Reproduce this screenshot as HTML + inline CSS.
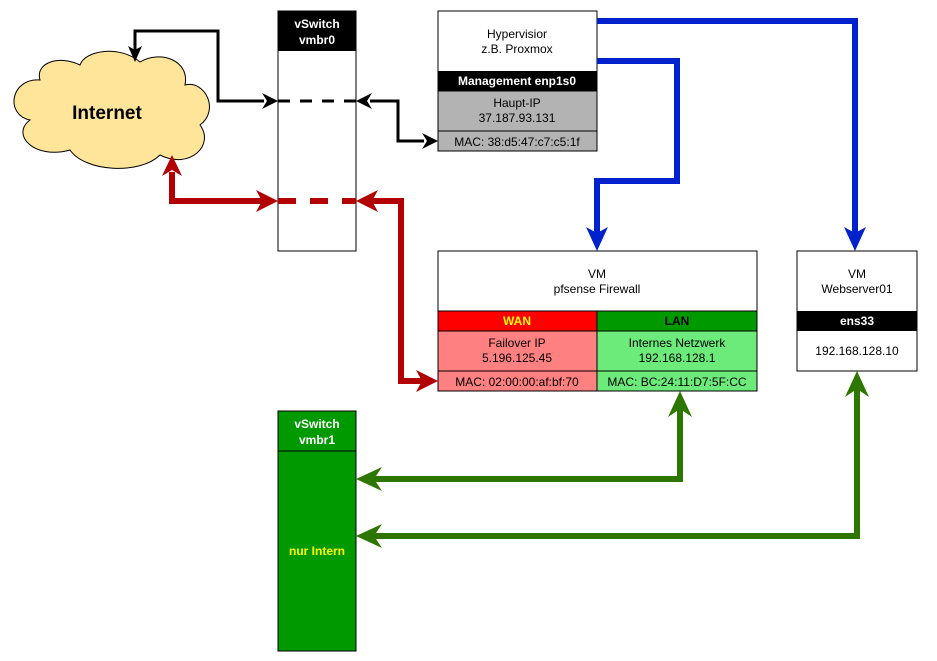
<!DOCTYPE html>
<html><head><meta charset="utf-8"><style>
html,body{margin:0;padding:0;background:#fff;}
svg{display:block;font-family:"Liberation Sans",Arial,sans-serif;}
</style></head><body>
<svg width="937" height="661" viewBox="0 0 937 661" xmlns="http://www.w3.org/2000/svg">
<defs>
<marker id="ak" viewBox="0 0 10 10" refX="9" refY="5" markerWidth="5" markerHeight="5" orient="auto-start-reverse" markerUnits="userSpaceOnUse" style="overflow:visible"><path d="M0,0 L10,5 L0,10 L3,5 Z" fill="#000" transform="scale(1.8) translate(-4,-2.2)"/></marker>
</defs>
<!-- cloud -->
<path d="M40,80 C10,78 5,115 30,120 C10,135 35,160 70,150 C85,172 140,175 160,155 C190,170 215,145 200,125 C220,110 205,80 185,85 C190,60 160,50 140,62 C120,45 85,50 80,65 C60,55 35,62 40,80 Z" fill="#ffe599" stroke="#000" stroke-width="1"/>
<text x="107" y="119" font-size="19" font-weight="bold" text-anchor="middle">Internet</text>

<!-- vSwitch vmbr0 -->
<rect x="278" y="11" width="78" height="240" fill="#fff" stroke="#000"/>
<rect x="278" y="11" width="78" height="40" fill="#000"/>
<text x="317" y="28" font-size="12" font-weight="bold" fill="#fff" text-anchor="middle">vSwitch</text>
<text x="317" y="44" font-size="12" font-weight="bold" fill="#fff" text-anchor="middle">vmbr0</text>

<!-- Hypervisor -->
<rect x="438" y="11" width="159" height="140" fill="#fff" stroke="#000"/>
<text x="517" y="38" font-size="12" text-anchor="middle">Hypervisior</text>
<text x="517" y="53" font-size="12" text-anchor="middle">z.B. Proxmox</text>
<rect x="438" y="71" width="159" height="20" fill="#000"/>
<text x="517" y="85" font-size="12" font-weight="bold" fill="#fff" text-anchor="middle">Management enp1s0</text>
<rect x="438" y="91" width="159" height="60" fill="#b3b3b3" stroke="#000"/>
<line x1="438" y1="131" x2="597" y2="131" stroke="#000"/>
<text x="517" y="107" font-size="12" text-anchor="middle">Haupt-IP</text>
<text x="517" y="122" font-size="12" text-anchor="middle">37.187.93.131</text>
<text x="517" y="146" font-size="12" text-anchor="middle">MAC: 38:d5:47:c7:c5:1f</text>

<!-- pfsense -->
<rect x="438" y="251" width="319" height="140" fill="#fff" stroke="#000"/>
<text x="597" y="278" font-size="12" text-anchor="middle">VM</text>
<text x="597" y="293" font-size="12" text-anchor="middle">pfsense Firewall</text>
<rect x="438" y="311" width="159" height="20" fill="#ff0000" stroke="#000"/>
<rect x="597" y="311" width="160" height="20" fill="#009900" stroke="#000"/>
<text x="517" y="325" font-size="12" font-weight="bold" fill="#ffff00" text-anchor="middle">WAN</text>
<text x="677" y="325" font-size="12" font-weight="bold" fill="#000" text-anchor="middle">LAN</text>
<rect x="438" y="331" width="159" height="60" fill="#ff8080" stroke="#000"/>
<rect x="597" y="331" width="160" height="60" fill="#6ceb7b" stroke="#000"/>
<line x1="438" y1="371" x2="757" y2="371" stroke="#000"/>
<text x="517" y="347" font-size="12" text-anchor="middle">Failover IP</text>
<text x="517" y="362" font-size="12" text-anchor="middle">5.196.125.45</text>
<text x="517" y="386" font-size="12" text-anchor="middle">MAC: 02:00:00:af:bf:70</text>
<text x="677" y="347" font-size="12" text-anchor="middle">Internes Netzwerk</text>
<text x="677" y="362" font-size="12" text-anchor="middle">192.168.128.1</text>
<text x="677" y="386" font-size="12" text-anchor="middle">MAC: BC:24:11:D7:5F:CC</text>

<!-- webserver -->
<rect x="797" y="251" width="120" height="120" fill="#fff" stroke="#000"/>
<text x="857" y="278" font-size="12" text-anchor="middle">VM</text>
<text x="857" y="293" font-size="12" text-anchor="middle">Webserver01</text>
<rect x="797" y="311" width="120" height="20" fill="#000"/>
<text x="857" y="325" font-size="12" font-weight="bold" fill="#fff" text-anchor="middle">ens33</text>
<text x="857" y="355" font-size="12" text-anchor="middle">192.168.128.10</text>

<!-- vSwitch vmbr1 -->
<rect x="278" y="411" width="78" height="240" fill="#009900" stroke="#000"/>
<line x1="278" y1="451" x2="356" y2="451" stroke="#000"/>
<text x="317" y="428" font-size="12" font-weight="bold" fill="#fff" text-anchor="middle">vSwitch</text>
<text x="317" y="444" font-size="12" font-weight="bold" fill="#fff" text-anchor="middle">vmbr1</text>
<text x="317" y="555" font-size="12" font-weight="bold" fill="#ffff00" text-anchor="middle">nur Intern</text>

<!-- black connectors -->
<polyline points="264,101 218,101 218,31 135,31 135,50" fill="none" stroke="#000" stroke-width="3"/>
<path d="M278,101 L262,93 L267,101 L262,109 Z" fill="#000"/>
<path d="M135,62 L128,46 L135,50 L142,46 Z" fill="#000"/>
<line x1="278" y1="101" x2="356" y2="101" stroke="#000" stroke-width="3" stroke-dasharray="12,10"/>
<polyline points="370,101 398,101 398,141 424,141" fill="none" stroke="#000" stroke-width="3"/>
<path d="M356,101 L372,93 L367,101 L372,109 Z" fill="#000"/>
<path d="M438,141 L422,133 L427,141 L422,149 Z" fill="#000"/>

<!-- red connectors -->
<polyline points="172,172 172,201 262,201" fill="none" stroke="#b20000" stroke-width="6"/>
<path d="M172,155 L162,176 L172,170 L182,176 Z" fill="#b20000"/>
<path d="M278,201 L256,190 L262,201 L256,212 Z" fill="#b20000"/>
<line x1="278" y1="201" x2="356" y2="201" stroke="#b20000" stroke-width="6" stroke-dasharray="18,14"/>
<polyline points="372,201 401,201 401,381 424,381" fill="none" stroke="#b20000" stroke-width="6"/>
<path d="M356,201 L378,190 L372,201 L378,212 Z" fill="#b20000"/>
<path d="M438,381 L416,370 L422,381 L416,392 Z" fill="#b20000"/>

<!-- blue connectors -->
<polyline points="597,21 855,21 855,234" fill="none" stroke="#0022cc" stroke-width="6"/>
<path d="M855,251 L844,227 L855,233 L866,227 Z" fill="#0022cc"/>
<polyline points="597,61 677,61 677,181 597,181 597,234" fill="none" stroke="#0022cc" stroke-width="6"/>
<path d="M597,251 L586,227 L597,233 L608,227 Z" fill="#0022cc"/>

<!-- green connectors -->
<polyline points="372,479 680,479 680,407" fill="none" stroke="#2d7600" stroke-width="6"/>
<path d="M356,479 L382,467 L374,479 L382,491 Z" fill="#2d7600"/>
<path d="M680,391 L668,417 L680,409 L692,417 Z" fill="#2d7600"/>
<polyline points="372,536 857,536 857,387" fill="none" stroke="#2d7600" stroke-width="6"/>
<path d="M356,536 L382,524 L374,536 L382,548 Z" fill="#2d7600"/>
<path d="M857,371 L845,397 L857,389 L869,397 Z" fill="#2d7600"/>
</svg>
</body></html>
